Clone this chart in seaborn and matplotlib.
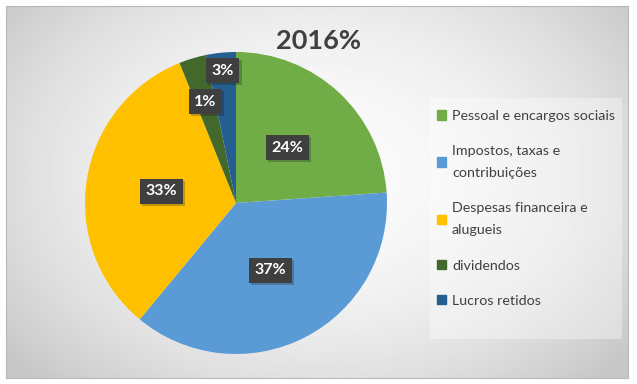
import matplotlib.pyplot as plt
import matplotlib.patheffects as pe
import numpy as np
import seaborn as sns
from matplotlib.patches import Patch, Rectangle

# values (clockwise from 12 o'clock)
categories = ["Pessoal e encargos sociais", "Impostos, taxas e\ncontribuições",
              "Despesas financeira e\nalugueis", "dividendos", "Lucros retidos"]
shares = [23.9, 37.1, 32.9, 2.9, 3.2]
pct_labels = ["24%", "37%", "33%", "1%", "3%"]  # data labels as printed on the chart
title = "2016%"

colors = sns.color_palette(["#70AD47", "#5B9BD5", "#FFC000", "#43682B", "#255E91"])
label_dist = [0.5, 0.5, 0.5, 0.7, 0.88]  # radial position of each data label
text_color = "#404040"

sns.set_theme(style="white")
plt.rcParams["font.family"] = ["Lato", "DejaVu Sans"]

W, H = 637, 384
fig = plt.figure(figsize=(W / 100, H / 100), dpi=100)
fig.patch.set_facecolor("white")

# chart area with soft radial gradient
bg = fig.add_axes([6 / W, 6 / H, 622 / W, 372 / H])
yy, xx = np.mgrid[0:1:200j, 0:1:320j]
d = np.sqrt(((xx - 0.5) / 0.62) ** 2 + ((yy - 0.45) / 0.75) ** 2)
shade = np.clip(0.985 - 0.19 * d ** 2, 0.78, 1.0)
bg.imshow(shade, cmap="gray", vmin=0, vmax=1, extent=(0, 1, 0, 1), aspect="auto", origin="upper")
bg.set_xticks([])
bg.set_yticks([])
for s in bg.spines.values():
    s.set_color("#b8b8b8")
    s.set_linewidth(0.8)

# legend panel
fig.patches.append(Rectangle((430 / W, 1 - 339 / H), 192 / W, 241 / H, transform=fig.transFigure,
                             facecolor="white", alpha=0.35, edgecolor="none", zorder=1))

ax = fig.add_axes([85 / W, 30 / H, 302 / W, 302 / H])
wedges, _ = ax.pie(shares, colors=colors, startangle=90, counterclock=False,
                   wedgeprops=dict(linewidth=0))
ax.set_xlim(-1, 1)
ax.set_ylim(-1, 1)
ax.set_aspect("equal")

for w, lab, r in zip(wedges, pct_labels, label_dist):
    mid = np.deg2rad((w.theta1 + w.theta2) / 2)
    t = ax.text(r * np.cos(mid), r * np.sin(mid), lab, ha="center", va="center",
                color="white", fontsize=11.5, fontweight="bold",
                bbox=dict(boxstyle="square,pad=0.35", fc="#3f3f3f", ec="none"))
    t.get_bbox_patch().set_path_effects([pe.SimplePatchShadow(offset=(1.5, -1.5), alpha=0.25),
                                         pe.Normal()])

fig.text(319 / W, 1 - 41 / H, title, ha="center", va="center", fontsize=19.5,
         fontweight="bold", color=text_color)

handles = [Patch(color=c) for c in colors]
leg = fig.legend(handles, categories, loc="upper left", bbox_to_anchor=(437 / W, 1 - 110 / H),
                 frameon=False, fontsize=10.3, labelcolor=text_color, handlelength=0.65,
                 handleheight=0.65, handletextpad=0.4, labelspacing=1.62,
                 borderaxespad=0, borderpad=0)
for t in leg.get_texts():
    t.set_linespacing(2.0)

fig.savefig("out.png", dpi=100)
